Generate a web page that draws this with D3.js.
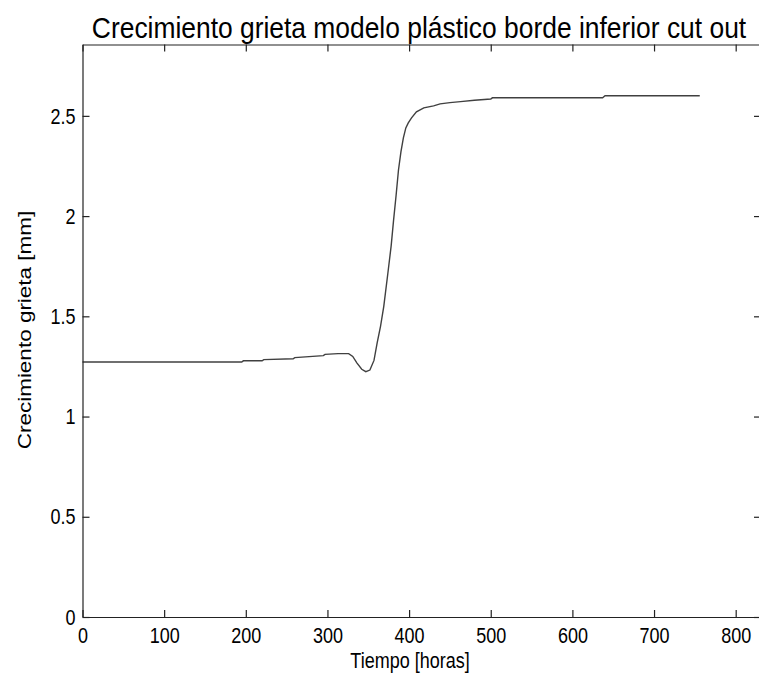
<!DOCTYPE html>
<html>
<head>
<meta charset="utf-8">
<script src="https://cdn.jsdelivr.net/npm/d3@7"></script>
<style>
  html, body { margin: 0; padding: 0; background: #fff; }
  svg { display: block; }
  text { font-family: "Liberation Sans", Arial, sans-serif; fill: #000; }
</style>
</head>
<body>
<svg id="chart" width="759" height="677"></svg>
<script>
// ---- data ----
const tiempo = [0, 195, 197, 220, 222, 258, 260, 295, 297, 313, 326, 331, 336, 342, 347, 352, 357, 361, 365, 369, 374, 378, 381, 384, 387, 390, 393, 396, 399, 403, 409, 418, 430, 438, 450, 463, 480, 500, 502, 520, 560, 600, 637, 640, 700, 756];
const crecimiento = [1.272, 1.272, 1.278, 1.278, 1.284, 1.288, 1.294, 1.304, 1.31, 1.314, 1.314, 1.3, 1.268, 1.236, 1.224, 1.232, 1.28, 1.37, 1.45, 1.55, 1.715, 1.85, 1.98, 2.1, 2.23, 2.32, 2.39, 2.44, 2.465, 2.49, 2.52, 2.54, 2.55, 2.56, 2.566, 2.571, 2.578, 2.584, 2.59, 2.59, 2.59, 2.59, 2.59, 2.6, 2.6, 2.6];
const xTicks = [0, 100, 200, 300, 400, 500, 600, 700, 800];
const yTicks = [0, 0.5, 1, 1.5, 2, 2.5];
const titulo = "Crecimiento grieta modelo plástico borde inferior cut out";
const xLabel = "Tiempo [horas]";
const yLabel = "Crecimiento grieta [mm]";

// ---- layout ----
const svg = d3.select("#chart");
const mLeft = 82.5, mRight = 761, mTop = 44.5, mBottom = 617;
const x = d3.scaleLinear().domain([0, 831]).range([mLeft, mRight]);
const y = d3.scaleLinear().domain([0, 2.856]).range([mBottom, mTop]);
const tickLen = 7;
const sx = 0.8;          // horizontal squeeze of the text glyphs
const fTick = 22.5;

const data = tiempo.map((t, i) => [t, crecimiento[i]]);

// line
svg.append("path")
  .datum(data)
  .attr("fill", "none")
  .attr("stroke", "#404040")
  .attr("stroke-width", 1.4)
  .attr("d", d3.line().x(d => x(d[0])).y(d => y(d[1])));

// axes (MATLAB-style box with inward ticks)
const axB = svg.append("g").attr("transform", `translate(0,${mBottom})`)
  .call(d3.axisBottom(x).tickValues(xTicks).tickSizeInner(-tickLen).tickSizeOuter(0).tickPadding(10).tickFormat(d3.format("d")));
const axT = svg.append("g").attr("transform", `translate(0,${mTop})`)
  .call(d3.axisTop(x).tickValues(xTicks).tickSizeInner(-tickLen).tickSizeOuter(0).tickFormat(""));
const axL = svg.append("g").attr("transform", `translate(${mLeft},0)`)
  .call(d3.axisLeft(y).tickValues(yTicks).tickSizeInner(-tickLen).tickSizeOuter(0).tickPadding(7).tickFormat(d => d3.format("")(d)));
const axR = svg.append("g").attr("transform", `translate(${mRight},0)`)
  .call(d3.axisRight(y).tickValues(yTicks).tickSizeInner(-tickLen).tickSizeOuter(0).tickFormat(""));

[axB, axT, axL, axR].forEach(g => {
  g.select(".domain").attr("stroke", "#222").attr("stroke-width", 1.2);
  g.selectAll(".tick line").attr("stroke", "#222").attr("stroke-width", 1.2);
  g.selectAll(".tick text").style("font-size", fTick + "px").attr("fill", "#000");
});
// squeeze tick labels horizontally
axL.selectAll(".tick text").each(function () {
  const t = d3.select(this);
  const xv = +t.attr("x");
  t.attr("x", xv / sx).attr("transform", `scale(${sx},1)`);
});
axB.selectAll(".tick text").attr("transform", `scale(${sx},1)`);

// titles
svg.append("text").attr("transform", `translate(419,38) scale(0.88,1)`).attr("text-anchor", "middle")
  .style("font-size", "30px").text(titulo);
svg.append("text").attr("transform", `translate(410,668) scale(${sx},1)`).attr("text-anchor", "middle")
  .style("font-size", fTick + "px").text(xLabel);
svg.append("text").attr("transform", `translate(31,330) rotate(-90) scale(1,${sx})`).attr("text-anchor", "middle")
  .style("font-size", fTick + "px").text(yLabel);
</script>
</body>
</html>
